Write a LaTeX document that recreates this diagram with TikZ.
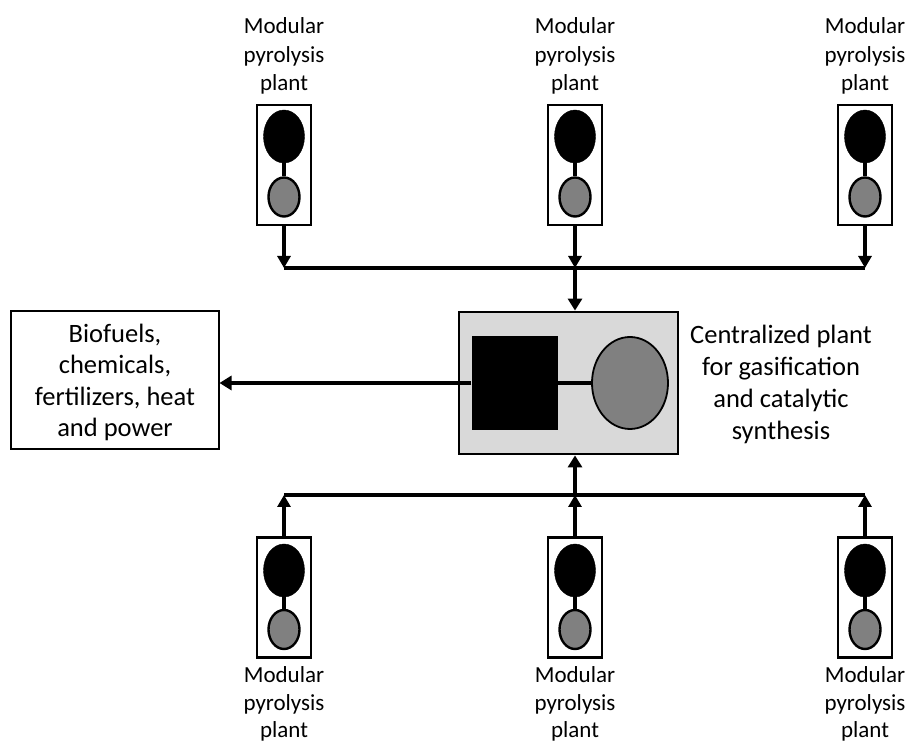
\documentclass[tikz,border=0pt]{standalone}
\usepackage{fontspec}
\setmainfont{Carlito}
\usetikzlibrary{arrows.meta,shapes.geometric,calc}
\tikzset{
 unit/.style={draw=black,line width=2.6pt,fill=white,minimum width=54pt,minimum height=120pt,inner sep=0pt},
 bigel/.style={ellipse,fill=black,draw=black,minimum width=41pt,minimum height=53pt,inner sep=0pt},
 smallel/.style={ellipse,fill=black!50,draw=black,line width=2.4pt,minimum width=31pt,minimum height=39pt,inner sep=0pt},
 lab/.style={align=center,font=\fontsize{23}{28.3}\selectfont,inner sep=0pt},
 labtight/.style={align=center,font=\fontsize{23}{27.4}\selectfont,inner sep=0pt},
 link/.style={line width=3.4pt},
 flow/.style={line width=3.6pt,-{Triangle[length=12pt,width=13pt]}},
 mainflow/.style={line width=4.6pt,-{Triangle[length=12pt,width=14pt]}},
 bus/.style={line width=4.6pt}
}
\newcommand{\plant}[6]{% name, x, boxy, labely, big ellipse offset, label style
 \node[unit] (#1box) at (#2,#3) {};
 \node[bigel] (#1big) at (#2,#3+#5) {};
 \node[smallel] (#1small) at (#2,#3-32) {};
 \draw[link] (#1big) -- (#1small);
 \node[#6] (#1lab) at (#2,#4) {Modular\\pyrolysis\\plant};
}
\begin{document}
\begin{tikzpicture}[x=1pt,y=1pt]
\useasboundingbox (0,0) rectangle (906,744);
% top row
\plant{ta}{284}{579}{688}{28.5}{lab}
\plant{tb}{575}{579}{688}{28.5}{lab}
\plant{tc}{865}{579}{688}{28.5}{lab}
% bottom row
\plant{ba}{284}{146.5}{40}{27}{labtight}
\plant{bb}{575}{146.5}{40}{27}{labtight}
\plant{bc}{865}{146.5}{40}{27}{labtight}
% centre
\node[draw=black,line width=2.8pt,fill=black!15,minimum width=219pt,minimum height=142pt,inner sep=0pt] (centre) at (568.5,361) {};
\node[fill=black,minimum width=86pt,minimum height=94pt,inner sep=0pt] (sq) at (514.5,361) {};
\node[ellipse,fill=black!50,draw=black,line width=1.8pt,minimum width=76pt,minimum height=92pt,inner sep=0pt] (el) at (630,361) {};
\draw[link] (sq) -- (el);
\node[lab,font=\fontsize{26.5}{32}\selectfont] (cl) at (781,360) {Centralized plant\\for gasification\\and catalytic\\synthesis};
% output
\node[draw=black,line width=2pt,fill=white,minimum width=208pt,minimum height=138pt,inner sep=0pt] (out) at (114.5,364) {};
\node[align=center,inner sep=0pt,font=\fontsize{26.5}{31.5}\selectfont] (outlab) at (115,361.5) {Biofuels,\\chemicals,\\fertilizers, heat\\and power};
\draw[mainflow] (sq.west) -- (out.east |- sq.west);
% top bus
\coordinate (tbl) at (tabox.south |- 0,476);
\coordinate (tbm) at (tbbox.south |- 0,476);
\coordinate (tbr) at (tcbox.south |- 0,476);
\draw[bus] (tbl) -- (tbr);
\draw[flow] (tabox.south) -- (tbl);
\draw[flow] (tbbox.south) -- (tbm);
\draw[flow] (tcbox.south) -- (tbr);
\draw[mainflow] (tbm) -- (tbm |- centre.north);
% bottom bus
\coordinate (bbl) at (babox.north |- 0,249);
\coordinate (bbm) at (bbbox.north |- 0,249);
\coordinate (bbr) at (bcbox.north |- 0,249);
\draw[bus] (bbl) -- (bbr);
\draw[flow] (babox.north) -- (bbl);
\draw[flow] (bbbox.north) -- (bbm);
\draw[flow] (bcbox.north) -- (bbr);
\draw[mainflow] (bbm) -- (bbm |- centre.south);
\end{tikzpicture}
\end{document}
